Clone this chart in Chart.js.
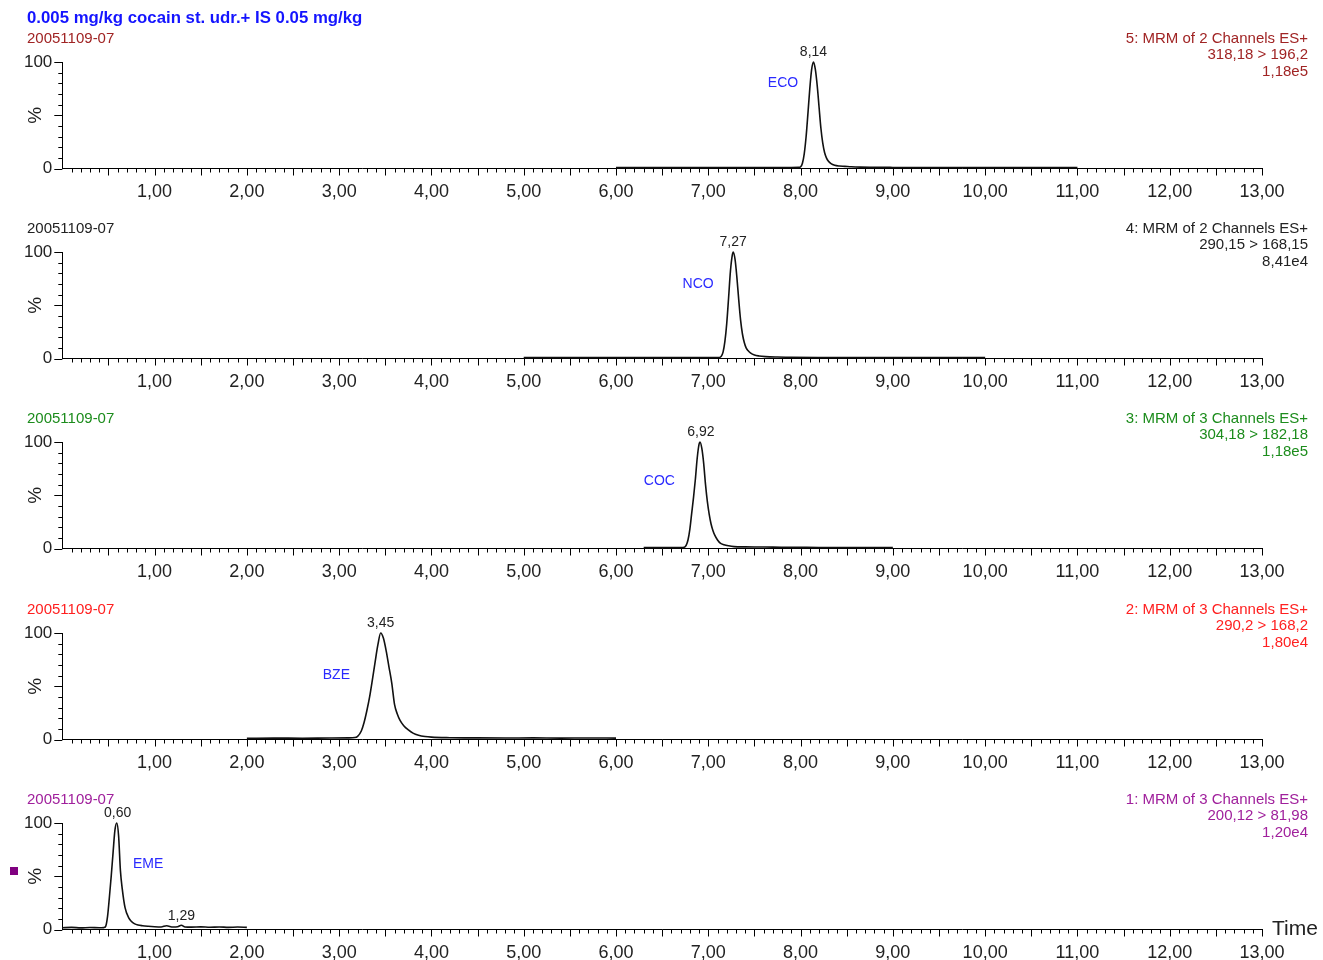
<!DOCTYPE html>
<html>
<head>
<meta charset="utf-8">
<script src="https://cdn.jsdelivr.net/npm/chart.js@4.4.1/dist/chart.umd.min.js"></script>
<style>
  body { margin: 0; background: #fff; overflow: hidden; width: 1323px; height: 960px; position: relative; }
  canvas { position: absolute; left: 0; }
</style>
</head>
<body>
<script>
// ---- data ----
const titleText = '0.005 mg/kg cocain st. udr.+ IS 0.05 mg/kg';
const sampleName = '20051109-07';
const xTickValues = [1, 2, 3, 4, 5, 6, 7, 8, 9, 10, 11, 12, 13];

const ecoTime = [6.00, 6.40, 6.80, 7.20, 7.60, 7.90, 7.98, 8.00, 8.02, 8.04, 8.06, 8.08, 8.10, 8.12, 8.14, 8.16, 8.18, 8.20, 8.22, 8.24, 8.26, 8.28, 8.30, 8.33, 8.37, 8.42, 8.48, 8.55, 8.65, 8.80, 9.00, 9.40, 9.80, 10.20, 10.60, 11.00];
const ecoInt = [0.8, 0.9, 0.8, 0.9, 0.9, 1.0, 1.1, 1.5, 5, 14, 30, 52, 75, 93, 100, 93, 78, 58, 38, 24, 15, 10, 7, 4.5, 3, 2.3, 2.0, 1.6, 1.3, 1.1, 1.0, 0.9, 0.9, 0.8, 0.9, 0.8];

const ncoTime = [5.00, 5.40, 5.80, 6.20, 6.60, 7.00, 7.12, 7.14, 7.16, 7.18, 7.20, 7.22, 7.24, 7.26, 7.27, 7.29, 7.31, 7.33, 7.35, 7.37, 7.39, 7.41, 7.43, 7.46, 7.50, 7.55, 7.62, 7.75, 7.90, 8.20, 8.60, 9.00, 9.40, 9.80, 10.00];
const ncoInt = [0.8, 0.9, 0.8, 0.9, 0.8, 0.9, 1.0, 2, 6, 16, 33, 57, 82, 97, 100, 93, 76, 55, 36, 23, 15, 10, 7.5, 5, 3.3, 2.4, 1.8, 1.4, 1.2, 1.0, 0.9, 0.8, 0.9, 0.8, 0.8];

const cocTime = [6.30, 6.50, 6.70, 6.74, 6.76, 6.78, 6.80, 6.82, 6.84, 6.86, 6.88, 6.90, 6.91, 6.93, 6.95, 6.97, 6.99, 7.01, 7.03, 7.05, 7.07, 7.10, 7.13, 7.17, 7.22, 7.28, 7.40, 7.55, 7.70, 7.90, 8.20, 8.50, 8.80, 9.00];
const cocInt = [0.8, 0.9, 0.9, 1.2, 3, 8, 18, 33, 48, 65, 85, 98, 100, 94, 80, 60, 44, 32, 23, 17, 12.5, 8, 5, 3.5, 2.5, 1.8, 1.5, 1.4, 1.3, 1.1, 1.0, 0.9, 0.9, 0.8];

const bzeTime = [2.00, 2.30, 2.60, 2.90, 3.10, 3.17, 3.20, 3.24, 3.27, 3.30, 3.33, 3.36, 3.39, 3.42, 3.45, 3.48, 3.51, 3.54, 3.57, 3.60, 3.63, 3.66, 3.70, 3.75, 3.80, 3.86, 3.93, 4.00, 4.20, 4.50, 4.80, 5.10, 5.40, 5.70, 6.00];
const bzeInt = [1.2, 1.3, 1.2, 1.4, 1.5, 1.8, 3, 8, 16, 27, 40, 56, 73, 89, 100, 95, 83, 68, 53, 33, 24, 18, 13, 9, 6, 4, 2.8, 2.2, 1.7, 1.5, 1.4, 1.5, 1.3, 1.4, 1.3];

const emeTime = [0.00, 0.10, 0.20, 0.30, 0.40, 0.45, 0.47, 0.49, 0.51, 0.53, 0.55, 0.57, 0.59, 0.61, 0.63, 0.65, 0.68, 0.72, 0.75, 0.78, 0.82, 0.87, 0.93, 1.00, 1.07, 1.13, 1.20, 1.25, 1.29, 1.33, 1.40, 1.50, 1.60, 1.70, 1.80, 1.90, 2.00];
const emeInt = [1.6, 2.0, 1.5, 1.9, 1.6, 1.8, 3, 12, 30, 50, 72, 93, 100, 88, 55, 38, 20.5, 11, 7.5, 5.5, 4.2, 3.5, 3.0, 2.6, 2.4, 3.5, 2.3, 2.6, 4.0, 2.4, 2.2, 2.5, 2.1, 2.4, 2.0, 2.3, 2.0];

// channel header lines, top to bottom
const channelLines = [
  ['5: MRM of 2 Channels ES+', '318,18 > 196,2', '1,18e5'],
  ['4: MRM of 2 Channels ES+', '290,15 > 168,15', '8,41e4'],
  ['3: MRM of 3 Channels ES+', '304,18 > 182,18', '1,18e5'],
  ['2: MRM of 3 Channels ES+', '290,2 > 168,2', '1,80e4'],
  ['1: MRM of 3 Channels ES+', '200,12 > 81,98', '1,20e4']
];
const channelColors = ['#a02424', '#222222', '#1c8c1c', '#ff2020', '#a0209c'];

// peak apex labels: [rt, height, text]
const peakLabels = [
  [[8.14, 100, '8,14']],
  [[7.27, 100, '7,27']],
  [[6.92, 100, '6,92']],
  [[3.45, 100, '3,45']],
  [[0.60, 100, '0,60'], [1.29, 4.0, '1,29']]
];
// compound names: [x, y, name]
const compoundLabels = [
  [7.81, 80, 'ECO'],
  [6.89, 70, 'NCO'],
  [6.47, 63, 'COC'],
  [2.97, 60, 'BZE'],
  [0.93, 61, 'EME']
];

const traces = [[ecoTime, ecoInt], [ncoTime, ncoInt], [cocTime, cocInt], [bzeTime, bzeInt], [emeTime, emeInt]];

// ---- drawing ----
const FONT = '"Liberation Sans", Arial, sans-serif';

const decor = {
  id: 'decor',
  afterDraw(chart) {
    const p = chart.options.plugins.decor;
    const { ctx, chartArea: { top, bottom, left }, scales: { x, y } } = chart;
    ctx.save();

    // minor / major ticks
    ctx.strokeStyle = '#000';
    ctx.lineWidth = 1;
    ctx.beginPath();
    for (let i = 1; i <= 130; i++) {
      const px = Math.round(x.getPixelForValue(i / 10)) + 0.5;
      const len = i % 5 === 0 ? 7 : 4;
      ctx.moveTo(px, bottom);
      ctx.lineTo(px, bottom + len);
    }
    for (let j = 0; j <= 10; j++) {
      const py = Math.round(y.getPixelForValue(j * 10)) + 0.5;
      const len = j % 5 === 0 ? 8 : 4;
      ctx.moveTo(left - len, py);
      ctx.lineTo(left, py);
    }
    ctx.stroke();

    ctx.textBaseline = 'middle';

    if (p.title) {
      ctx.font = 'bold 16.8px ' + FONT;
      ctx.fillStyle = '#1414ff';
      ctx.textAlign = 'left';
      ctx.fillText(titleText, 27, 18);
    }

    ctx.font = '15px ' + FONT;
    ctx.fillStyle = p.color;
    ctx.textAlign = 'left';
    ctx.fillText(sampleName, 27, top - 23.5);

    ctx.font = '15px ' + FONT;
    ctx.textAlign = 'right';
    p.lines.forEach((t, i) => ctx.fillText(t, 1308, top - 23.5 + i * 16.5));

    // % axis label
    ctx.save();
    ctx.translate(36, (top + bottom) / 2);
    ctx.rotate(-Math.PI / 2);
    ctx.font = '19px ' + FONT;
    ctx.fillStyle = '#222';
    ctx.textAlign = 'center';
    ctx.fillText('%', 0, 0);
    ctx.restore();

    ctx.font = '14px ' + FONT;
    ctx.textAlign = 'center';
    ctx.fillStyle = '#222';
    p.peaks.forEach(([rt, h, t]) => {
      ctx.fillText(t, x.getPixelForValue(rt), y.getPixelForValue(h) - 9.5);
    });

    const [cx, cy, name] = p.compound;
    ctx.fillStyle = '#2a2aff';
    ctx.fillText(name, x.getPixelForValue(cx), y.getPixelForValue(cy));

    if (p.last) {
      ctx.fillStyle = '#800080';
      ctx.fillRect(10, top + 44, 8, 8);
      ctx.font = '21px ' + FONT;
      ctx.fillStyle = '#222';
      ctx.textAlign = 'left';
      ctx.fillText('Time', 1272, bottom);
    }
    ctx.restore();
  }
};

traces.forEach(([times, ints], k) => {
  const canvas = document.createElement('canvas');
  canvas.width = 1323;
  canvas.height = 215;
  canvas.style.top = Math.round(k * 190.2) + 'px';
  document.body.appendChild(canvas);

  new Chart(canvas, {
    type: 'line',
    data: {
      datasets: [{
        data: times.map((t, i) => ({ x: t, y: ints[i] })),
        borderColor: '#111',
        borderWidth: 1.6,
        pointRadius: 0,
        cubicInterpolationMode: 'monotone',
        fill: false,
        clip: 6
      }]
    },
    options: {
      responsive: false,
      animation: false,
      layout: { padding: { top: 62, right: 61, left: 0, bottom: 0 } },
      plugins: {
        legend: { display: false },
        tooltip: { enabled: false },
        decor: {
          title: k === 0,
          last: k === traces.length - 1,
          color: channelColors[k],
          lines: channelLines[k],
          peaks: peakLabels[k],
          compound: compoundLabels[k]
        }
      },
      scales: {
        x: {
          type: 'linear',
          min: 0,
          max: 13,
          afterFit: (s) => { s.height = 46.5; },
          afterBuildTicks: (s) => { s.ticks = [0].concat(xTickValues).map(v => ({ value: v })); },
          grid: { display: true, drawOnChartArea: false, drawTicks: true, tickLength: 8, tickColor: 'rgba(0,0,0,0)' },
          border: { display: true, color: '#000', width: 1 },
          ticks: {
            autoSkip: false,
            maxRotation: 0,
            padding: 5,
            color: '#222',
            font: { family: FONT, size: 18 },
            callback: (v) => v === 0 ? '' : Number(v).toFixed(2).replace('.', ',')
          }
        },
        y: {
          min: 0,
          max: 100,
          afterFit: (s) => { s.width = 62.3; },
          grid: { display: true, drawOnChartArea: false, drawTicks: true, tickLength: 8, tickColor: 'rgba(0,0,0,0)' },
          border: { display: true, color: '#000', width: 1 },
          ticks: {
            stepSize: 50,
            padding: 2,
            color: '#222',
            font: { family: FONT, size: 17 },
            callback: (v) => v === 50 ? '' : String(v)
          }
        }
      }
    },
    plugins: [decor]
  });
});
</script>
</body>
</html>
